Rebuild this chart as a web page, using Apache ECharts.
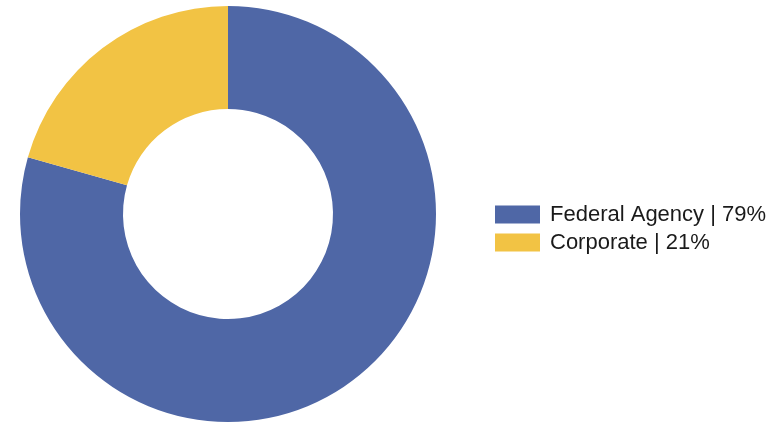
<!DOCTYPE html>
<html>
<head>
<meta charset="utf-8">
<script src="https://cdn.jsdelivr.net/npm/echarts@6/dist/echarts.min.js"></script>
<style>
  html, body { margin: 0; padding: 0; background: #fff; }
  #chart { width: 782px; height: 422px; }
</style>
</head>
<body>
<div id="chart"></div>
<script>
var categories = ['Federal Agency', 'Corporate'];
var values = [79.4, 20.6];
var colors = ['#4F67A6', '#F2C344'];

var chart = echarts.init(document.getElementById('chart'));
var option = {
    animation: false,
    color: colors,
    legend: {
        orient: 'vertical',
        left: 490,
        top: 197,
        itemWidth: 45,
        itemHeight: 18,
        itemGap: 3,
        icon: 'rect',
        selectedMode: false,
        textStyle: {
            fontFamily: 'Liberation Sans, Arial, sans-serif',
            fontSize: 22,
            lineHeight: 18,
            padding: [7, 0, 0, 5],
            color: '#1a1a1a'
        },
        formatter: function (name) {
            var i = categories.indexOf(name);
            return name + ' | ' + Math.round(values[i]) + '%';
        }
    },
    series: [{
        type: 'pie',
        center: [228, 214],
        radius: [105, 208],
        startAngle: 90,
        clockwise: true,
        label: { show: false },
        labelLine: { show: false },
        emphasis: { disabled: true },
        itemStyle: { borderWidth: 0 },
        data: categories.map(function (c, i) {
            return { name: c, value: values[i] };
        })
    }]
};
chart.setOption(option);
</script>
</body>
</html>
